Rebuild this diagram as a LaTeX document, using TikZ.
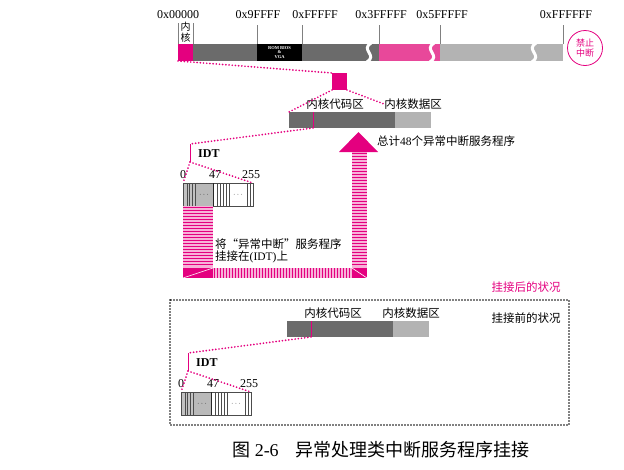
\documentclass[tikz,border=0pt]{standalone}
\usepackage{fontspec}
\setmainfont{Liberation Serif}
\newfontfamily\cjk{Noto Sans CJK SC}
\usepackage{xcolor}
\usetikzlibrary{positioning}

\definecolor{hot}{HTML}{E4007F}
\definecolor{barpink}{HTML}{E8489A}
\definecolor{darkbar}{HTML}{6B6B6B}
\definecolor{lightbar}{HTML}{B3B3B3}
\definecolor{idtgrey}{HTML}{C2C2C2}

\begin{document}
\begin{tikzpicture}[
        x=1pt, y=-1pt,
        seg/.style={
            rectangle,
            inner sep=0pt,
            outer sep=0pt,
            anchor=north west,
            minimum height=17pt
        },
        addr/.style={font=\fontsize{12}{12}\selectfont, inner sep=0pt},
        memtick/.style={draw=gray, line width=0.6pt},
        gapline/.style={draw=white, line width=3pt},
        dotline/.style={draw=hot, line width=1.9pt, line cap=round, dash pattern=on 0pt off 3.2pt},
        boxframe/.style={draw=black, line width=1.6pt, line cap=round, dash pattern=on 0pt off 3pt},
        lbl/.style={font=\cjk\fontsize{11.5}{12.5}\selectfont, inner sep=0pt},
        stripe/.style={draw=hot, line width=1.8pt},
        seam/.style={draw=white, line width=0.6pt}
    ]
        \useasboundingbox (0,0) rectangle (624,469);

        % memory map
        \node[seg, fill=hot, minimum width=15pt] (kern) at (178,44) {};
        \node[seg, fill=darkbar, minimum width=64pt] (low) at (193,44) {};
        \node[seg, fill=black, minimum width=45pt, text=white, align=center,
            font=\bfseries\fontsize{4.5}{4.8}\selectfont] (bios) at (257,44) {ROM BIOS\\\&\\VGA};
        \node[seg, fill=darkbar, minimum width=77pt] (mid) at (302,44) {};
        \node[seg, fill=barpink, minimum width=61pt] (ext) at (379,44) {};
        \node[seg, fill=lightbar, minimum width=123pt] (high) at (440,44) {};
        \foreach \x in {369,432,534}
            \draw[gapline] (\x+2,43) .. controls (\x-9,50) and (\x+9,55) .. (\x-2,62);

        \draw[memtick] (kern.north west) -- ++(0,-21);
        \draw[memtick] (kern.north east) -- ++(0,-21);
        \foreach \a in {bios.north west, bios.north east, ext.north west, high.north west, high.north east}
            \draw[memtick] (\a) -- ++(0,-19);

        \node[addr] (a0) at (178,15) {0x00000};
        \node[addr] (a1) at (258,15) {0x9FFFF};
        \node[addr] (a2) at (315,15) {0xFFFFF};
        \node[addr] (a3) at (381,15) {0x3FFFFF};
        \node[addr] (a4) at (442,15) {0x5FFFFF};
        \node[addr] (a5) at (566,15) {0xFFFFFF};
        \node[font=\cjk\fontsize{10}{11.5}\selectfont, align=center, inner sep=0pt] (kname) at (185.5,32) {内\\核};
        \node[circle, draw=hot, line width=0.8pt, minimum size=35pt, inner sep=0pt, text=hot, align=center,
            font=\cjk\fontsize{9}{10.5}\selectfont] (noint) at (585,48) {禁止\\中断};

        \node[seg, fill=hot, minimum width=15pt] (ksq) at (332,73) {};
        \draw[dotline] (kern.south west) -- (ksq.north west);

        % kernel area and IDT, after and before hooking
        \foreach \p/\dx/\dy in {up/0/0, dn/-2/209} {
            \begin{scope}[shift={(\dx,\dy)}]
                \node[seg, fill=darkbar, minimum width=106pt, minimum height=16pt] (\p-code) at (289,112) {};
                \node[seg, fill=lightbar, minimum width=36pt, minimum height=16pt] (\p-data) at (395,112) {};
                \node[lbl] (\p-codet) at (335,104) {内核代码区};
                \node[lbl] (\p-datat) at (413,104) {内核数据区};
                \coordinate (\p-hook) at (313,128);
                \draw[hot, line width=1pt] (313,112) -- (\p-hook);
                \coordinate (\p-brt) at (190,144);
                \coordinate (\p-brb) at (190,162);
                \draw[dotline] (\p-hook) -- (\p-brt);
                \draw[hot, line width=1pt] (\p-brt) -- (\p-brb);
                \node[font=\bfseries\fontsize{12}{12}\selectfont, anchor=west, inner sep=0pt] (\p-idtname) at (198,154) {IDT};

                \fill[idtgrey] (183,183) rectangle (213,206);
                \fill[gray!55] (195,183) rectangle (213,206);
                \node[seg, draw=black!70, line width=0.6pt, minimum width=70pt, minimum height=23pt] (\p-idt) at (183,183) {};
                \foreach \x in {187,189.5,192,195,217,220,223,226.5,229.5,247,250}
                    \draw[black!70, line width=0.4pt] (\x,183) -- (\x,206);
                \draw[black!85, line width=0.9pt] (213,183) -- (213,206);
                \node[font=\fontsize{7}{7}\selectfont, inner sep=0pt] (\p-dotsa) at (204,195) {$\cdots$};
                \node[font=\fontsize{7}{7}\selectfont, inner sep=0pt] (\p-dotsb) at (238,195) {$\cdots$};
                \node[addr] (\p-n0) at (183,175) {0};
                \node[addr] (\p-n47) at (215,175) {47};
                \node[addr] (\p-n255) at (251,175) {255};
                \draw[dotline] (\p-brb) -- (\p-idt.north west);
                \draw[dotline] (\p-brb) -- (\p-idt.north east);
            \end{scope}
        }
        \draw[dotline] (ksq.south west) -- (up-code.north west);
        \draw[dotline] (ksq.south east) -- (up-datat.west);

        % hooking arrow
        \fill[hot!30] (183,206) rectangle (213,268);
        \foreach \y in {207.5,210.5,...,266}
            \draw[stripe] (183,\y) -- (213,\y);
        \fill[hot] (183,268) rectangle (213,278);
        \draw[seam] (183,278) -- (213,268);
        \fill[hot!30] (213,268) rectangle (352,278);
        \foreach \x in {214.5,217.5,...,351}
            \draw[stripe] (\x,268) -- (\x,278);
        \fill[hot] (352,268) rectangle (367,278);
        \draw[seam] (352,268) -- (367,278);
        \fill[hot!30] (352,152) rectangle (367,268);
        \foreach \y in {153.5,156.5,...,266}
            \draw[stripe] (352,\y) -- (367,\y);
        \fill[hot] (339,152) -- (358.5,132) -- (378,152) -- cycle;

        \node[lbl, anchor=west] (total) at (377,141) {总计{\rmfamily 48}个异常中断服务程序};
        \node[lbl, anchor=west, align=left] (hooktext) at (215,251) {将“异常中断”服务程序\\挂接在{\rmfamily (IDT)}上};
        \node[lbl, text=hot] (after) at (526,287) {挂接后的状况};
        \node[lbl] (before) at (526,318) {挂接前的状况};
        \draw[boxframe] (170,300) rectangle (569,425);

        \node[font=\fontsize{18}{18}\selectfont, inner sep=0pt] (caption) at (381,450)
            {{\cjk 图} 2-6\hspace{17pt}{\cjk 异常处理类中断服务程序挂接}};
    \end{tikzpicture}
\end{document}
